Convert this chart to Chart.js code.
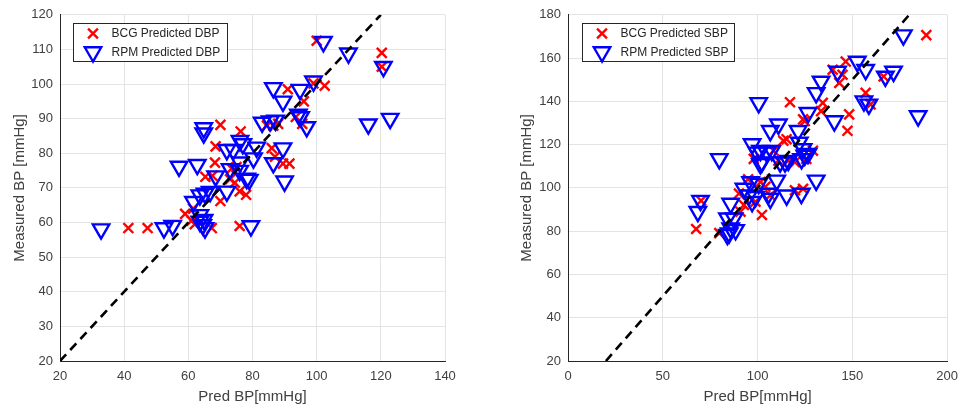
<!DOCTYPE html>
<html>
<head>
<meta charset="utf-8">
<script src="https://cdn.jsdelivr.net/npm/chart.js@4/dist/chart.umd.min.js"></script>
<style>
  html, body { margin: 0; padding: 0; background: #fff; }
  #wrap { position: relative; width: 966px; height: 410px; overflow: hidden; }
  canvas { position: absolute; top: 0; }
</style>
</head>
<body>
<div id="wrap">
  <canvas id="dbp" width="480" height="410" style="left:0"></canvas>
  <canvas id="sbp" width="483" height="410" style="left:483px"></canvas>
</div>
<script>
// ---- Diastolic: predicted vs measured (mmHg) ----
const bcgDbpPred = [41.3, 47.3, 59, 61.5, 61, 62, 67.3, 70, 76.3, 68.5, 68.3, 67.5, 65.3, 70, 73.5, 75, 74.5, 76, 78, 76, 86, 84.5, 88, 89.5, 91.5, 91, 93.5, 96, 95.5, 100, 102.5, 99, 120.3, 120.3, 73, 87, 86.5];
const bcgDbpMeas = [58.4, 58.4, 62.5, 64, 60.5, 59.5, 58.4, 88.2, 86.3, 82, 77.3, 73.5, 73.2, 66.2, 75.6, 76, 71.5, 69, 68, 59, 81.5, 88, 88.5, 77, 77, 98.5, 90.5, 95, 88.5, 112.5, 99.5, 100.2, 109, 105, 72.5, 79, 88];

const rpmDbpPred = [32.8, 52.4, 55.1, 57.1, 62.8, 64.8, 64.8, 61.6, 63.6, 65.2, 66.8, 63.6, 64.9, 65.2, 63.6, 64.5, 68.5, 72, 74, 77, 73, 76, 72, 76.1, 76.1, 78.2, 79, 80.3, 81.3, 79.5, 83, 85.5, 87.2, 86.5, 86.5, 89.5, 89.5, 90, 94.8, 94.3, 95, 96.9, 99, 102.1, 109.9, 120.8, 116.1, 122.9];
const rpmDbpMeas = [58.1, 58.4, 59.1, 76.2, 76.7, 87.3, 85.8, 66, 67.9, 68.4, 68.9, 62.2, 60.8, 58.4, 60.3, 59.3, 73.4, 81, 81, 82.7, 75.5, 75, 69, 83.6, 77.4, 72.7, 72.4, 78.6, 81.7, 59, 88.9, 89.3, 89.5, 98.9, 77.2, 81.5, 95, 71.9, 98.4, 91.2, 90.5, 87.6, 100.8, 112.2, 108.9, 105, 88.4, 90];

// ---- Systolic: predicted vs measured (mmHg) ----
const bcgSbpPred = [67.6, 70.2, 79.8, 91, 92.8, 90.2, 98, 102.3, 98.9, 101.5, 104.1, 106.7, 108.4, 117.1, 113.6, 116.2, 119.7, 119.7, 124.9, 125.7, 129.2, 134.4, 133.5, 139.6, 143.1, 146.5, 144.8, 148.3, 147.4, 157, 159.6, 166.5, 189, 124, 111, 124, 115.3, 95];
const bcgSbpMeas = [81, 94.1, 79.1, 89, 92.1, 97.4, 113.4, 87.5, 93.6, 102.7, 100.5, 96.6, 117.2, 139.6, 121.8, 112.6, 111.9, 98.9, 130.9, 113.4, 117.2, 139.3, 135.5, 154.6, 148.5, 158.4, 152.3, 134, 126.4, 143.9, 138.6, 151.5, 170.6, 99.6, 112.6, 131.7, 122.5, 104];

const rpmSbpPred = [69.9, 68.5, 79.8, 85.8, 84.1, 85.8, 88.4, 84.1, 92.8, 95.4, 97.1, 96.3, 100.6, 97.1, 101.5, 102.3, 106.7, 107.5, 106.7, 111, 110.1, 111.9, 115.3, 116.2, 121.4, 123.1, 124, 124.9, 126.6, 130.9, 133.5, 130.9, 140.5, 142.2, 152.6, 157, 156.1, 158.7, 167.4, 171.7, 176.9, 184.7, 126.6, 99.7, 104.9, 101.5, 114.5, 123.2, 100.6, 98.9, 105.8, 87.6, 85, 122];
const rpmSbpMeas = [94.1, 89, 113.4, 92.8, 86, 81.4, 80.6, 78.4, 99.7, 96.6, 93.6, 102.7, 139.3, 120.3, 117.2, 111.9, 126.4, 117.2, 95.1, 129.4, 103.5, 111.9, 96.6, 112.6, 126.4, 97.4, 118, 115, 134.7, 143.9, 149.2, 103.5, 130.9, 153.8, 158.4, 154.6, 140.1, 138.6, 151.5, 153.8, 170.6, 133.2, 115.8, 116.4, 116.4, 111.1, 111.9, 113.4, 102, 95.9, 97.4, 86, 79.1, 121];

// Identity line end points (measured = predicted)
const dbpIdentity = [20, 120];
const sbpIdentity = [20, 180];

// Axis ranges and tick steps
const dbpXTicks = [20, 140, 20];
const dbpYTicks = [20, 120, 10];
const sbpXTicks = [0, 200, 50];
const sbpYTicks = [20, 180, 20];

Chart.defaults.font.family = "'Liberation Sans', Arial, Helvetica, sans-serif";
Chart.defaults.color = '#404040';

const zip = (xs, ys) => xs.map((x, i) => ({ x, y: ys[i] }));

function drawMarker(ctx, style, r, rot, x, y) {
  if (Chart.helpers && Chart.helpers.drawPoint) {
    Chart.helpers.drawPoint(ctx, { pointStyle: style, radius: r, rotation: rot, borderWidth: ctx.lineWidth }, x, y);
    return;
  }
  ctx.beginPath();
  if (style === 'crossRot') {
    const d = r * Math.SQRT1_2;
    ctx.moveTo(x - d, y - d); ctx.lineTo(x + d, y + d);
    ctx.moveTo(x + d, y - d); ctx.lineTo(x - d, y + d);
  } else {
    ctx.moveTo(x, y + r);
    ctx.lineTo(x - r * 0.866, y - r / 2);
    ctx.lineTo(x + r * 0.866, y - r / 2);
    ctx.closePath();
  }
  ctx.stroke();
}

// Boxed legend placed inside the plot area
const insetLegend = {
  id: 'insetLegend',
  afterDraw(chart, args, opts) {
    const ctx = chart.ctx;
    const { x, y, w, h } = opts;
    ctx.save();
    ctx.fillStyle = '#fff';
    ctx.fillRect(x, y, w, h);
    ctx.strokeStyle = '#262626';
    ctx.lineWidth = 1;
    ctx.strokeRect(x + 0.5, y + 0.5, w, h);
    const items = chart.data.datasets.filter(d => d.inLegend);
    items.forEach((ds, i) => {
      const cy = y + 10.5 + i * 18.5;
      ctx.strokeStyle = ds.borderColor;
      ctx.fillStyle = 'rgba(0,0,0,0)';
      ctx.lineWidth = ds.borderWidth;
      drawMarker(ctx, ds.pointStyle, ds.pointRadius, ds.rotation || 0, x + 20, cy);
      ctx.fillStyle = '#262626';
      ctx.font = "12px 'Liberation Sans', Arial, sans-serif";
      ctx.textBaseline = 'middle';
      ctx.textAlign = 'left';
      ctx.fillText(ds.label, x + 38.5, cy + 0.5);
    });
    ctx.restore();
  }
};

function makeChart(id, cfg) {
  const tickFont = { size: 13 };
  const grid = { color: '#e4e4e4', drawTicks: false, lineWidth: 1 };
  const border = { color: '#262626', width: 1 };
  return new Chart(document.getElementById(id), {
    type: 'scatter',
    data: {
      datasets: [
        {
          type: 'line',
          label: 'identity',
          data: cfg.identity.map(v => ({ x: v, y: v })),
          borderColor: '#000',
          borderWidth: 2.6,
          borderDash: [9, 6],
          pointRadius: 0,
          fill: false,
          order: 0
        },
        {
          label: cfg.bcgLabel,
          inLegend: true,
          data: zip(cfg.bcgX, cfg.bcgY),
          pointStyle: 'crossRot',
          pointRadius: 7,
          borderColor: '#ff0000',
          backgroundColor: 'rgba(0,0,0,0)',
          borderWidth: 2.4,
          order: 2
        },
        {
          label: cfg.rpmLabel,
          inLegend: true,
          data: zip(cfg.rpmX, cfg.rpmY),
          pointStyle: 'triangle',
          rotation: 180,
          pointRadius: 9.5,
          borderColor: '#0000ff',
          backgroundColor: 'rgba(0,0,0,0)',
          borderWidth: 2.4,
          order: 1
        }
      ]
    },
    options: {
      responsive: false,
      animation: false,
      events: [],
      layout: { padding: { left: 0, top: 11, right: cfg.padRight, bottom: 0 } },
      plugins: {
        legend: { display: false },
        tooltip: { enabled: false },
        insetLegend: cfg.legendBox
      },
      scales: {
        x: {
          type: 'linear',
          min: cfg.xTicks[0], max: cfg.xTicks[1],
          ticks: { stepSize: cfg.xTicks[2], font: tickFont, color: '#404040', padding: 8, maxRotation: 0 },
          grid, border,
          title: { display: true, text: 'Pred BP[mmHg]', color: '#404040', font: { size: 15 }, padding: { top: 0, bottom: 4 } },
          afterFit: s => { s.height = 49; }
        },
        y: {
          type: 'linear',
          min: cfg.yTicks[0], max: cfg.yTicks[1],
          ticks: { stepSize: cfg.yTicks[2], font: tickFont, color: '#404040', padding: 7 },
          grid, border,
          title: { display: true, text: 'Measured BP [mmHg]', color: '#404040', font: { size: 15 }, padding: { top: cfg.yTitlePad, bottom: 0 } },
          afterFit: s => { s.width = cfg.yWidth; }
        }
      }
    },
    plugins: [insetLegend]
  });
}

makeChart('dbp', {
  identity: dbpIdentity,
  bcgX: bcgDbpPred, bcgY: bcgDbpMeas,
  rpmX: rpmDbpPred, rpmY: rpmDbpMeas,
  bcgLabel: 'BCG Predicted DBP', rpmLabel: 'RPM Predicted DBP',
  xTicks: dbpXTicks, yTicks: dbpYTicks,
  yWidth: 60, yTitlePad: 11, padRight: 35,
  legendBox: { x: 73, y: 23, w: 154, h: 38 }
});

makeChart('sbp', {
  identity: sbpIdentity,
  bcgX: bcgSbpPred, bcgY: bcgSbpMeas,
  rpmX: rpmSbpPred, rpmY: rpmSbpMeas,
  bcgLabel: 'BCG Predicted SBP', rpmLabel: 'RPM Predicted SBP',
  xTicks: sbpXTicks, yTicks: sbpYTicks,
  yWidth: 85, yTitlePad: 35, padRight: 13,
  legendBox: { x: 99, y: 23, w: 152, h: 38 }
});
</script>
</body>
</html>
